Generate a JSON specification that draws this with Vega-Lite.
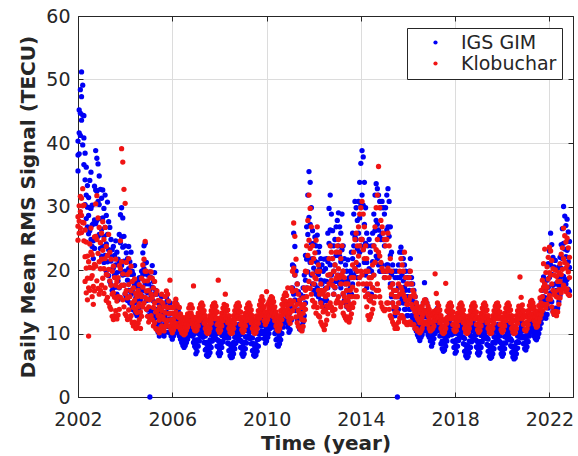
{
  "$schema": "https://vega.github.io/schema/vega-lite/v6.json",
  "width": 495,
  "height": 381,
  "autosize": {"type": "none"},
  "padding": {"left": 78, "top": 16, "right": 5, "bottom": 59},
  "background": "white",
  "config": {
    "font": "DejaVu Sans",
    "view": {"stroke": "#262626", "strokeWidth": 1},
    "axis": {
      "labelFont": "DejaVu Sans",
      "labelFontSize": 19,
      "labelColor": "#262626",
      "labelFlush": false,
      "titleFont": "DejaVu Sans",
      "titleFontSize": 20,
      "titleFontWeight": "bold",
      "titleColor": "#262626",
      "domainColor": "#262626",
      "tickColor": "#262626",
      "tickSize": -5,
      "gridColor": "#dcdcdc",
      "gridWidth": 1
    }
  },
  "data": {
    "values": [
      {"t":2002.00,"a":40.3,"e":38.1,"b":35.6,"c":28.4,"f":26.9,"d":24.7},
      {"t":2002.05,"a":45.2,"e":41.6,"b":38.3,"c":30.1,"f":27.7,"d":25.8},
      {"t":2002.10,"a":48.4,"e":44.7,"b":41.2,"c":31.6,"f":29.2,"d":26.6},
      {"t":2002.15,"a":51.2,"e":47.3,"b":43.6,"c":31.3,"f":28.6,"d":25.9},
      {"t":2002.20,"a":49.1,"e":44.4,"b":39.7,"c":32.8,"f":30.1,"d":27.5},
      {"t":2002.25,"a":44.3,"e":40.8,"b":36.6,"c":30.2,"f":27.4,"d":24.6},
      {"t":2002.30,"a":38.4,"e":34.2,"b":30.3,"c":26.3,"f":22.1,"d":18.2},
      {"t":2002.35,"a":36.2,"e":31.8,"b":28.1,"c":24.4,"f":20.3,"d":16.4},
      {"t":2002.40,"a":33.3,"e":29.9,"b":26.8,"c":22.2,"f":18.7,"d":15.3},
      {"t":2002.45,"a":31.4,"e":28.6,"b":25.7,"c":21.3,"f":17.2,"d":9.6},
      {"t":2002.50,"a":34.1,"e":29.8,"b":26.2,"c":24.1,"f":20.4,"d":16.8},
      {"t":2002.55,"a":35.4,"e":29.7,"b":24.8,"c":26.6,"f":22.8,"d":18.7},
      {"t":2002.60,"a":30.2,"e":27.1,"b":23.7,"c":22.4,"f":19.1,"d":15.8},
      {"t":2002.65,"a":27.3,"e":24.6,"b":21.8,"c":20.3,"f":17.4,"d":14.6},
      {"t":2002.70,"a":33.2,"e":27.9,"b":23.4,"c":25.2,"f":20.9,"d":16.7},
      {"t":2002.75,"a":38.8,"e":32.6,"b":27.3,"c":30.4,"f":25.3,"d":20.6},
      {"t":2002.80,"a":37.6,"e":32.4,"b":27.8,"c":31.7,"f":24.8,"d":18.3},
      {"t":2002.85,"a":36.7,"e":30.8,"b":25.3,"c":28.2,"f":22.6,"d":17.1},
      {"t":2002.90,"a":34.8,"e":30.3,"b":25.6,"c":26.7,"f":21.3,"d":16.2},
      {"t":2002.95,"a":32.7,"e":28.1,"b":23.4,"c":24.3,"f":20.2,"d":16.8},
      {"t":2003.00,"a":31.3,"e":26.4,"b":22.2,"c":25.8,"f":21.7,"d":17.6},
      {"t":2003.05,"a":32.6,"e":28.2,"b":23.7,"c":27.6,"f":23.1,"d":18.7},
      {"t":2003.10,"a":29.7,"e":25.3,"b":21.2,"c":24.8,"f":20.2,"d":16.3},
      {"t":2003.15,"a":31.8,"e":26.7,"b":22.3,"c":26.7,"f":21.8,"d":17.2},
      {"t":2003.20,"a":28.6,"e":24.1,"b":19.8,"c":23.7,"f":19.3,"d":15.2},
      {"t":2003.25,"a":30.7,"e":25.6,"b":21.3,"c":22.3,"f":19.2,"d":15.7},
      {"t":2003.30,"a":27.6,"e":23.2,"b":19.1,"c":25.6,"f":20.1,"d":14.8},
      {"t":2003.35,"a":26.7,"e":22.3,"b":18.2,"c":22.8,"f":18.3,"d":14.2},
      {"t":2003.40,"a":24.8,"e":21.4,"b":17.7,"c":21.7,"f":17.6,"d":13.8},
      {"t":2003.45,"a":23.2,"e":20.1,"b":16.8,"c":19.8,"f":16.2,"d":12.7},
      {"t":2003.50,"a":23.7,"e":20.3,"b":17.2,"c":20.6,"f":16.4,"d":12.2},
      {"t":2003.55,"a":22.3,"e":19.2,"b":16.1,"c":18.8,"f":15.7,"d":12.8},
      {"t":2003.60,"a":24.6,"e":20.8,"b":17.3,"c":21.7,"f":17.6,"d":13.6},
      {"t":2003.65,"a":22.8,"e":19.6,"b":16.2,"c":18.2,"f":15.1,"d":12.3},
      {"t":2003.70,"a":21.7,"e":18.3,"b":15.3,"c":18.8,"f":15.8,"d":12.9},
      {"t":2003.75,"a":25.6,"e":21.2,"b":17.2,"c":20.7,"f":17.3,"d":13.8},
      {"t":2003.80,"a":28.7,"e":24.3,"b":19.8,"c":24.6,"f":20.2,"d":15.7},
      {"t":2003.85,"a":29.8,"e":25.2,"b":20.7,"c":39.1,"f":21.3,"d":17.6},
      {"t":2003.90,"a":28.2,"e":23.6,"b":19.2,"c":37.0,"f":19.4,"d":15.3},
      {"t":2003.95,"a":25.3,"e":21.4,"b":17.6,"c":32.7,"f":17.6,"d":14.2},
      {"t":2004.00,"a":23.8,"e":19.8,"b":16.2,"c":30.5,"f":16.3,"d":13.1},
      {"t":2004.05,"a":22.7,"e":19.3,"b":15.8,"c":21.2,"f":16.8,"d":12.8},
      {"t":2004.10,"a":21.8,"e":18.4,"b":15.2,"c":19.3,"f":15.6,"d":12.2},
      {"t":2004.15,"a":23.7,"e":20.2,"b":16.8,"c":21.8,"f":17.7,"d":13.7},
      {"t":2004.20,"a":21.3,"e":18.1,"b":14.8,"c":19.7,"f":15.8,"d":12.3},
      {"t":2004.25,"a":22.8,"e":19.3,"b":16.2,"c":20.6,"f":16.7,"d":12.8},
      {"t":2004.30,"a":19.8,"e":16.9,"b":14.2,"c":18.2,"f":14.8,"d":11.7},
      {"t":2004.35,"a":19.3,"e":16.4,"b":13.7,"c":17.2,"f":14.1,"d":11.2},
      {"t":2004.40,"a":20.7,"e":17.6,"b":14.8,"c":18.6,"f":15.2,"d":11.8},
      {"t":2004.45,"a":18.2,"e":15.6,"b":13.2,"c":16.3,"f":13.6,"d":10.8},
      {"t":2004.50,"a":17.3,"e":15.1,"b":12.8,"c":15.8,"f":13.3,"d":11.1},
      {"t":2004.55,"a":18.4,"e":16.1,"b":13.7,"c":16.8,"f":14.2,"d":11.6},
      {"t":2004.60,"a":18.8,"e":16.3,"b":14.1,"c":17.7,"f":14.7,"d":12.2},
      {"t":2004.65,"a":17.2,"e":15.2,"b":12.8,"c":16.2,"f":13.4,"d":10.8},
      {"t":2004.70,"a":19.8,"e":16.8,"b":14.2,"c":18.7,"f":15.8,"d":12.7},
      {"t":2004.75,"a":22.7,"e":19.3,"b":15.8,"c":20.8,"f":17.3,"d":14.2},
      {"t":2004.80,"a":23.8,"e":20.2,"b":16.7,"c":21.7,"f":18.3,"d":14.8},
      {"t":2004.85,"a":24.2,"e":21.1,"b":17.8,"c":24.5,"f":19.8,"d":15.7},
      {"t":2004.90,"a":21.2,"e":18.2,"b":15.2,"c":19.8,"f":16.7,"d":13.8},
      {"t":2004.95,"a":19.2,"e":16.4,"b":13.7,"c":18.3,"f":15.4,"d":12.7},
      {"t":2005.00,"a":17.8,"e":15.3,"b":12.8,"c":16.8,"f":14.2,"d":11.8},
      {"t":2005.05,"a":19.7,"e":16.8,"b":0,"c":18.8,"f":15.3,"d":12.2},
      {"t":2005.10,"a":18.8,"e":15.8,"b":13.2,"c":19.7,"f":16.2,"d":12.8},
      {"t":2005.15,"a":20.7,"e":17.3,"b":13.8,"c":18.7,"f":15.6,"d":12.2},
      {"t":2005.20,"a":18.2,"e":15.1,"b":12.2,"c":17.2,"f":14.1,"d":11.2},
      {"t":2005.25,"a":19.6,"e":16.2,"b":12.8,"c":18.2,"f":14.8,"d":11.7},
      {"t":2005.30,"a":16.8,"e":13.8,"b":11.2,"c":16.2,"f":13.4,"d":10.8},
      {"t":2005.35,"a":16.2,"e":13.4,"b":10.8,"c":16.7,"f":13.6,"d":10.6},
      {"t":2005.40,"a":14.8,"e":12.4,"b":10.2,"c":15.2,"f":12.8,"d":10.4},
      {"t":2005.45,"a":13.8,"e":11.6,"b":9.6,"c":14.2,"f":12.1,"d":10.1},
      {"t":2005.50,"a":14.7,"e":12.3,"b":10.1,"c":15.1,"f":12.8,"d":10.8},
      {"t":2005.55,"a":15.8,"e":13.3,"b":11.1,"c":16.2,"f":13.6,"d":11.2},
      {"t":2005.60,"a":14.2,"e":12.1,"b":10.2,"c":14.8,"f":12.6,"d":10.6},
      {"t":2005.65,"a":13.2,"e":11.3,"b":9.6,"c":14.2,"f":12.2,"d":10.4},
      {"t":2005.70,"a":14.8,"e":12.4,"b":10.2,"c":15.8,"f":13.3,"d":11.1},
      {"t":2005.75,"a":15.8,"e":13.4,"b":11.2,"c":16.7,"f":14.2,"d":11.8},
      {"t":2005.80,"a":15.2,"e":13.1,"b":11.1,"c":16.2,"f":14.1,"d":12.1},
      {"t":2005.85,"a":14.1,"e":12.1,"b":10.2,"c":15.1,"f":13.1,"d":11.2},
      {"t":2005.90,"a":14.8,"e":12.3,"b":10.1,"c":18.4,"f":13.2,"d":11.1},
      {"t":2005.95,"a":13.1,"e":11.2,"b":9.6,"c":14.1,"f":12.2,"d":10.6},
      {"t":2006.00,"a":12.2,"e":10.6,"b":9.1,"c":13.2,"f":11.6,"d":10.1},
      {"t":2006.05,"a":13.1,"e":11.3,"b":9.6,"c":14.1,"f":12.2,"d":10.6},
      {"t":2006.10,"a":14.1,"e":12.1,"b":10.1,"c":14.8,"f":12.9,"d":11.1},
      {"t":2006.15,"a":14.8,"e":12.7,"b":10.6,"c":15.4,"f":13.4,"d":11.6},
      {"t":2006.20,"a":14.1,"e":12.1,"b":10.1,"c":14.6,"f":12.8,"d":11.1},
      {"t":2006.25,"a":13.6,"e":11.8,"b":10.1,"c":14.2,"f":12.6,"d":11.1},
      {"t":2006.30,"a":13.1,"e":11.3,"b":9.6,"c":14.1,"f":12.5,"d":11.0},
      {"t":2006.35,"a":12.1,"e":10.6,"b":9.1,"c":13.1,"f":11.8,"d":10.6},
      {"t":2006.40,"a":11.2,"e":9.8,"b":8.6,"c":12.6,"f":11.3,"d":10.1},
      {"t":2006.45,"a":10.6,"e":9.3,"b":8.1,"c":12.1,"f":11.0,"d":10.0},
      {"t":2006.50,"a":10.1,"e":8.9,"b":7.8,"c":11.6,"f":10.7,"d":9.8},
      {"t":2006.55,"a":10.6,"e":9.3,"b":8.1,"c":12.1,"f":11.0,"d":10.0},
      {"t":2006.60,"a":11.1,"e":9.8,"b":8.6,"c":12.6,"f":11.5,"d":10.5},
      {"t":2006.65,"a":11.6,"e":10.3,"b":9.1,"c":13.1,"f":12.0,"d":11.0},
      {"t":2006.70,"a":12.1,"e":10.8,"b":9.6,"c":14.0,"f":12.7,"d":11.5},
      {"t":2006.75,"a":12.6,"e":11.3,"b":10.1,"c":14.5,"f":13.2,"d":12.0},
      {"t":2006.80,"a":12.6,"e":11.3,"b":10.1,"c":14.5,"f":13.2,"d":12.0},
      {"t":2006.85,"a":12.1,"e":10.8,"b":9.6,"c":14.0,"f":12.7,"d":11.5},
      {"t":2006.90,"a":11.1,"e":9.8,"b":8.6,"c":17.5,"f":12.2,"d":11.0},
      {"t":2006.95,"a":10.1,"e":9.0,"b":8.0,"c":12.5,"f":11.5,"d":10.5},
      {"t":2007.00,"a":8.5,"e":7.7,"b":6.8,"c":12.2,"f":11.3,"d":10.4},
      {"t":2007.05,"a":9.0,"e":8.1,"b":7.2,"c":12.6,"f":11.6,"d":10.6},
      {"t":2007.10,"a":10.0,"e":9.0,"b":8.0,"c":13.2,"f":12.2,"d":11.2},
      {"t":2007.15,"a":11.0,"e":9.9,"b":8.8,"c":14.0,"f":13.0,"d":12.0},
      {"t":2007.20,"a":11.8,"e":10.7,"b":9.6,"c":14.6,"f":13.6,"d":12.6},
      {"t":2007.25,"a":12.2,"e":11.1,"b":10.0,"c":14.8,"f":13.8,"d":12.8},
      {"t":2007.30,"a":11.8,"e":10.6,"b":9.4,"c":14.4,"f":13.4,"d":12.4},
      {"t":2007.35,"a":10.8,"e":9.7,"b":8.6,"c":13.6,"f":12.6,"d":11.6},
      {"t":2007.40,"a":9.6,"e":8.5,"b":7.4,"c":12.8,"f":11.8,"d":10.8},
      {"t":2007.45,"a":8.6,"e":7.6,"b":6.6,"c":12.2,"f":11.2,"d":10.2},
      {"t":2007.50,"a":8.2,"e":7.3,"b":6.4,"c":12.0,"f":11.0,"d":10.0},
      {"t":2007.55,"a":8.4,"e":7.5,"b":6.6,"c":12.2,"f":11.2,"d":10.2},
      {"t":2007.60,"a":9.0,"e":8.0,"b":7.0,"c":12.8,"f":11.8,"d":10.8},
      {"t":2007.65,"a":9.8,"e":8.8,"b":7.8,"c":13.6,"f":12.6,"d":11.6},
      {"t":2007.70,"a":10.8,"e":9.8,"b":8.8,"c":14.3,"f":13.3,"d":12.3},
      {"t":2007.75,"a":11.5,"e":10.5,"b":9.5,"c":14.7,"f":13.7,"d":12.7},
      {"t":2007.80,"a":11.7,"e":10.6,"b":9.6,"c":14.8,"f":13.8,"d":12.8},
      {"t":2007.85,"a":11.2,"e":10.2,"b":9.2,"c":14.3,"f":13.3,"d":12.3},
      {"t":2007.90,"a":10.0,"e":9.0,"b":8.0,"c":13.4,"f":12.4,"d":11.4},
      {"t":2007.95,"a":8.9,"e":7.9,"b":6.9,"c":18.4,"f":11.6,"d":10.6},
      {"t":2008.00,"a":8.2,"e":7.4,"b":6.5,"c":12.2,"f":11.1,"d":10.2},
      {"t":2008.05,"a":8.7,"e":7.9,"b":6.9,"c":12.5,"f":11.6,"d":10.5},
      {"t":2008.10,"a":9.7,"e":8.6,"b":7.8,"c":13.2,"f":12.3,"d":11.2},
      {"t":2008.15,"a":10.7,"e":9.8,"b":8.7,"c":14.0,"f":12.9,"d":12.0},
      {"t":2008.20,"a":11.5,"e":10.3,"b":9.4,"c":14.6,"f":13.7,"d":12.6},
      {"t":2008.25,"a":11.8,"e":10.9,"b":9.8,"c":16.2,"f":13.7,"d":12.8},
      {"t":2008.30,"a":11.4,"e":10.2,"b":9.3,"c":14.4,"f":13.5,"d":12.4},
      {"t":2008.35,"a":10.5,"e":9.6,"b":8.5,"c":13.7,"f":12.6,"d":11.7},
      {"t":2008.40,"a":9.3,"e":8.4,"b":7.3,"c":12.8,"f":11.7,"d":10.8},
      {"t":2008.45,"a":8.3,"e":7.3,"b":6.5,"c":12.2,"f":11.3,"d":10.2},
      {"t":2008.50,"a":7.8,"e":7.1,"b":6.2,"c":12.0,"f":10.9,"d":10.0},
      {"t":2008.55,"a":8.0,"e":7.2,"b":6.3,"c":12.1,"f":11.2,"d":10.1},
      {"t":2008.60,"a":8.6,"e":7.8,"b":6.8,"c":12.8,"f":11.7,"d":10.8},
      {"t":2008.65,"a":9.4,"e":8.4,"b":7.6,"c":13.6,"f":12.7,"d":11.6},
      {"t":2008.70,"a":10.4,"e":9.5,"b":8.5,"c":14.3,"f":13.2,"d":12.3},
      {"t":2008.75,"a":11.2,"e":10.1,"b":9.2,"c":14.7,"f":13.8,"d":12.7},
      {"t":2008.80,"a":11.4,"e":10.5,"b":9.4,"c":14.8,"f":13.7,"d":12.8},
      {"t":2008.85,"a":10.9,"e":9.8,"b":8.9,"c":14.3,"f":13.4,"d":12.3},
      {"t":2008.90,"a":9.8,"e":8.9,"b":7.8,"c":13.4,"f":12.3,"d":11.4},
      {"t":2008.95,"a":8.7,"e":7.7,"b":6.8,"c":12.6,"f":11.7,"d":10.6},
      {"t":2009.00,"a":8.0,"e":7.3,"b":6.4,"c":12.2,"f":11.2,"d":10.2},
      {"t":2009.05,"a":8.6,"e":7.6,"b":6.8,"c":12.5,"f":11.4,"d":10.5},
      {"t":2009.10,"a":9.5,"e":8.6,"b":7.6,"c":13.2,"f":12.3,"d":11.2},
      {"t":2009.15,"a":10.5,"e":9.4,"b":8.5,"c":14.0,"f":13.1,"d":12.0},
      {"t":2009.20,"a":11.3,"e":10.4,"b":9.3,"c":14.6,"f":13.5,"d":12.6},
      {"t":2009.25,"a":11.7,"e":10.6,"b":9.7,"c":14.8,"f":13.9,"d":12.8},
      {"t":2009.30,"a":11.3,"e":10.3,"b":9.2,"c":14.4,"f":13.3,"d":12.4},
      {"t":2009.35,"a":10.4,"e":9.3,"b":8.4,"c":13.7,"f":12.8,"d":11.7},
      {"t":2009.40,"a":9.3,"e":8.4,"b":7.3,"c":12.8,"f":11.7,"d":10.8},
      {"t":2009.45,"a":8.4,"e":7.4,"b":6.6,"c":12.2,"f":11.3,"d":10.2},
      {"t":2009.50,"a":8.0,"e":7.3,"b":6.4,"c":12.0,"f":10.9,"d":10.0},
      {"t":2009.55,"a":8.3,"e":7.5,"b":6.6,"c":12.2,"f":11.2,"d":10.2},
      {"t":2009.60,"a":9.0,"e":8.0,"b":7.2,"c":12.8,"f":11.9,"d":10.8},
      {"t":2009.65,"a":10.0,"e":9.1,"b":8.0,"c":13.6,"f":12.5,"d":11.6},
      {"t":2009.70,"a":11.2,"e":10.1,"b":9.2,"c":14.5,"f":13.5,"d":12.4},
      {"t":2009.75,"a":12.2,"e":11.2,"b":10.0,"c":15.2,"f":14.0,"d":13.0},
      {"t":2009.80,"a":12.8,"e":11.5,"b":10.4,"c":15.8,"f":14.6,"d":13.2},
      {"t":2009.85,"a":12.5,"e":11.3,"b":10.0,"c":15.2,"f":13.9,"d":12.8},
      {"t":2009.90,"a":11.5,"e":10.3,"b":9.2,"c":14.2,"f":13.2,"d":12.0},
      {"t":2009.95,"a":10.5,"e":9.4,"b":8.5,"c":13.4,"f":12.3,"d":11.4},
      {"t":2010.00,"a":11.0,"e":9.8,"b":8.8,"c":16.6,"f":12.9,"d":11.8},
      {"t":2010.05,"a":11.8,"e":10.7,"b":9.4,"c":14.6,"f":13.3,"d":12.2},
      {"t":2010.10,"a":12.6,"e":11.2,"b":10.0,"c":15.0,"f":13.9,"d":12.8},
      {"t":2010.15,"a":13.4,"e":12.2,"b":10.8,"c":15.4,"f":14.2,"d":13.2},
      {"t":2010.20,"a":14.0,"e":12.6,"b":11.4,"c":15.8,"f":14.7,"d":13.4},
      {"t":2010.25,"a":14.2,"e":12.9,"b":11.6,"c":15.6,"f":14.3,"d":13.2},
      {"t":2010.30,"a":13.6,"e":12.4,"b":11.0,"c":15.0,"f":13.9,"d":12.6},
      {"t":2010.35,"a":12.6,"e":11.2,"b":10.0,"c":14.2,"f":13.0,"d":12.0},
      {"t":2010.40,"a":11.4,"e":10.3,"b":9.0,"c":13.4,"f":12.4,"d":11.2},
      {"t":2010.45,"a":10.4,"e":9.2,"b":8.2,"c":12.8,"f":11.6,"d":10.6},
      {"t":2010.50,"a":10.0,"e":9.1,"b":8.0,"c":12.6,"f":11.4,"d":10.4},
      {"t":2010.55,"a":10.4,"e":9.3,"b":8.4,"c":12.8,"f":11.9,"d":10.8},
      {"t":2010.60,"a":11.4,"e":10.1,"b":9.0,"c":13.6,"f":12.4,"d":11.4},
      {"t":2010.65,"a":12.6,"e":11.4,"b":10.0,"c":14.6,"f":13.5,"d":12.2},
      {"t":2010.70,"a":13.6,"e":12.2,"b":11.0,"c":15.4,"f":14.1,"d":13.0},
      {"t":2010.75,"a":14.6,"e":13.3,"b":11.8,"c":16.0,"f":14.8,"d":13.4},
      {"t":2010.80,"a":15.0,"e":13.4,"b":12.0,"c":16.4,"f":15.1,"d":13.6},
      {"t":2010.85,"a":14.6,"e":13.0,"b":11.6,"c":16.0,"f":14.5,"d":13.2},
      {"t":2010.90,"a":13.8,"e":12.5,"b":11.0,"c":17.2,"f":13.8,"d":12.6},
      {"t":2010.95,"a":13.0,"e":11.6,"b":10.2,"c":14.6,"f":13.2,"d":12.0},
      {"t":2011.00,"a":14.2,"e":12.3,"b":10.6,"c":15.2,"f":13.3,"d":11.6},
      {"t":2011.05,"a":17.1,"e":14.4,"b":12.1,"c":17.2,"f":14.7,"d":12.4},
      {"t":2011.10,"a":20.8,"e":17.2,"b":14.1,"c":19.8,"f":16.6,"d":13.6},
      {"t":2011.15,"a":25.8,"e":20.6,"b":16.2,"c":27.4,"f":20.3,"d":15.1},
      {"t":2011.20,"a":23.7,"e":19.2,"b":15.3,"c":25.3,"f":19.2,"d":14.2},
      {"t":2011.25,"a":19.8,"e":16.6,"b":13.6,"c":21.7,"f":16.8,"d":12.6},
      {"t":2011.30,"a":17.8,"e":14.8,"b":12.2,"c":17.8,"f":14.6,"d":11.7},
      {"t":2011.35,"a":16.6,"e":13.7,"b":11.2,"c":16.2,"f":13.6,"d":11.1},
      {"t":2011.40,"a":15.2,"e":12.8,"b":10.7,"c":15.3,"f":13.1,"d":10.9},
      {"t":2011.45,"a":16.1,"e":13.4,"b":11.2,"c":14.6,"f":12.6,"d":10.6},
      {"t":2011.50,"a":15.6,"e":12.9,"b":10.6,"c":14.1,"f":12.2,"d":10.4},
      {"t":2011.55,"a":17.2,"e":14.4,"b":11.8,"c":15.6,"f":13.2,"d":11.1},
      {"t":2011.60,"a":19.2,"e":15.8,"b":12.8,"c":17.2,"f":14.6,"d":12.1},
      {"t":2011.65,"a":22.3,"e":18.4,"b":14.8,"c":19.8,"f":16.8,"d":13.8},
      {"t":2011.70,"a":26.8,"e":21.7,"b":17.2,"c":23.8,"f":19.7,"d":15.8},
      {"t":2011.75,"a":31.8,"e":25.6,"b":19.7,"c":27.8,"f":22.3,"d":17.2},
      {"t":2011.80,"a":35.5,"e":28.3,"b":21.8,"c":31.8,"f":24.7,"d":18.2},
      {"t":2011.85,"a":33.8,"e":27.2,"b":21.2,"c":29.7,"f":23.4,"d":17.1},
      {"t":2011.90,"a":29.8,"e":24.2,"b":19.2,"c":26.8,"f":21.2,"d":16.2},
      {"t":2011.95,"a":26.2,"e":21.8,"b":17.8,"c":23.8,"f":19.4,"d":15.2},
      {"t":2012.00,"a":24.2,"e":20.3,"b":16.8,"c":21.8,"f":17.8,"d":14.2},
      {"t":2012.05,"a":25.2,"e":21.4,"b":17.7,"c":22.7,"f":18.8,"d":14.8},
      {"t":2012.10,"a":23.8,"e":19.7,"b":16.2,"c":24.7,"f":18.6,"d":13.2},
      {"t":2012.15,"a":25.5,"e":21.2,"b":17.2,"c":26.8,"f":19.8,"d":14.1},
      {"t":2012.20,"a":22.8,"e":19.3,"b":15.8,"c":20.8,"f":16.8,"d":12.8},
      {"t":2012.25,"a":23.7,"e":20.2,"b":16.8,"c":19.8,"f":16.2,"d":12.6},
      {"t":2012.30,"a":21.8,"e":18.4,"b":15.2,"c":17.8,"f":14.8,"d":11.8},
      {"t":2012.35,"a":20.8,"e":17.8,"b":14.8,"c":16.8,"f":14.2,"d":11.4},
      {"t":2012.40,"a":19.8,"e":16.7,"b":14.2,"c":16.2,"f":13.4,"d":11.1},
      {"t":2012.45,"a":21.7,"e":18.3,"b":15.2,"c":16.8,"f":13.6,"d":10.6},
      {"t":2012.50,"a":20.2,"e":17.1,"b":14.1,"c":15.8,"f":13.6,"d":11.4},
      {"t":2012.55,"a":21.8,"e":18.2,"b":15.2,"c":17.2,"f":14.4,"d":12.1},
      {"t":2012.60,"a":25.8,"e":21.3,"b":17.2,"c":19.2,"f":16.1,"d":13.1},
      {"t":2012.65,"a":29.7,"e":24.2,"b":19.2,"c":21.8,"f":17.8,"d":14.1},
      {"t":2012.70,"a":31.8,"e":26.3,"b":20.8,"c":23.8,"f":19.3,"d":14.8},
      {"t":2012.75,"a":28.8,"e":23.8,"b":19.2,"c":22.8,"f":18.4,"d":14.2},
      {"t":2012.80,"a":26.2,"e":21.8,"b":17.8,"c":21.8,"f":17.6,"d":13.6},
      {"t":2012.85,"a":23.8,"e":19.8,"b":16.2,"c":19.8,"f":16.2,"d":12.8},
      {"t":2012.90,"a":24.8,"e":20.8,"b":17.2,"c":20.8,"f":17.3,"d":13.8},
      {"t":2012.95,"a":26.8,"e":22.3,"b":18.2,"c":22.8,"f":18.7,"d":14.8},
      {"t":2013.00,"a":27.8,"e":22.8,"b":18.2,"c":23.8,"f":19.2,"d":15.2},
      {"t":2013.05,"a":29.0,"e":23.8,"b":19.2,"c":24.8,"f":20.2,"d":15.8},
      {"t":2013.10,"a":26.8,"e":22.2,"b":17.8,"c":22.8,"f":18.8,"d":14.8},
      {"t":2013.15,"a":25.8,"e":21.3,"b":17.2,"c":21.8,"f":17.8,"d":14.2},
      {"t":2013.20,"a":28.8,"e":23.2,"b":18.2,"c":23.8,"f":19.3,"d":14.8},
      {"t":2013.25,"a":23.8,"e":19.8,"b":16.2,"c":19.8,"f":16.3,"d":13.2},
      {"t":2013.30,"a":21.8,"e":18.3,"b":15.2,"c":18.8,"f":15.8,"d":12.8},
      {"t":2013.35,"a":20.8,"e":17.8,"b":14.8,"c":17.8,"f":15.1,"d":12.4},
      {"t":2013.40,"a":19.8,"e":16.8,"b":14.2,"c":16.8,"f":14.3,"d":12.1},
      {"t":2013.45,"a":21.6,"e":18.2,"b":15.1,"c":17.8,"f":15.2,"d":12.6},
      {"t":2013.50,"a":18.8,"e":16.3,"b":13.8,"c":15.8,"f":13.8,"d":11.8},
      {"t":2013.55,"a":19.8,"e":17.2,"b":14.6,"c":16.8,"f":14.6,"d":12.4},
      {"t":2013.60,"a":22.8,"e":19.3,"b":16.2,"c":18.8,"f":15.8,"d":13.1},
      {"t":2013.65,"a":25.8,"e":21.8,"b":17.8,"c":20.8,"f":17.3,"d":14.1},
      {"t":2013.70,"a":28.8,"e":23.8,"b":19.2,"c":22.8,"f":18.8,"d":14.8},
      {"t":2013.75,"a":30.8,"e":25.2,"b":20.2,"c":24.8,"f":20.2,"d":15.8},
      {"t":2013.80,"a":29.8,"e":24.8,"b":19.8,"c":25.8,"f":21.2,"d":16.8},
      {"t":2013.85,"a":27.8,"e":23.3,"b":18.8,"c":23.8,"f":19.8,"d":15.8},
      {"t":2013.90,"a":30.8,"e":25.8,"b":20.8,"c":26.8,"f":22.2,"d":17.8},
      {"t":2013.95,"a":33.8,"e":28.2,"b":22.8,"c":28.8,"f":23.8,"d":18.8},
      {"t":2014.00,"a":36.8,"e":30.2,"b":23.8,"c":29.8,"f":24.8,"d":19.8},
      {"t":2014.05,"a":38.8,"e":31.8,"b":24.8,"c":30.8,"f":24.8,"d":19.2},
      {"t":2014.10,"a":37.8,"e":30.2,"b":23.2,"c":28.8,"f":23.2,"d":17.8},
      {"t":2014.15,"a":33.8,"e":27.2,"b":21.2,"c":26.8,"f":21.8,"d":16.8},
      {"t":2014.20,"a":29.8,"e":24.2,"b":19.2,"c":23.8,"f":19.8,"d":15.8},
      {"t":2014.25,"a":25.8,"e":21.2,"b":17.2,"c":21.8,"f":17.8,"d":14.2},
      {"t":2014.30,"a":23.8,"e":19.8,"b":16.2,"c":19.8,"f":16.2,"d":12.8},
      {"t":2014.35,"a":24.8,"e":20.2,"b":16.2,"c":18.8,"f":15.3,"d":12.2},
      {"t":2014.40,"a":22.8,"e":18.8,"b":15.2,"c":17.8,"f":15.1,"d":12.6},
      {"t":2014.45,"a":23.8,"e":19.8,"b":16.2,"c":18.8,"f":15.8,"d":13.1},
      {"t":2014.50,"a":25.8,"e":21.3,"b":17.2,"c":20.8,"f":17.2,"d":13.8},
      {"t":2014.55,"a":28.8,"e":23.8,"b":19.2,"c":23.8,"f":19.2,"d":14.8},
      {"t":2014.60,"a":31.8,"e":26.2,"b":21.2,"c":26.8,"f":21.2,"d":15.8},
      {"t":2014.65,"a":33.6,"e":27.8,"b":22.2,"c":29.8,"f":23.2,"d":16.8},
      {"t":2014.70,"a":32.8,"e":27.2,"b":21.8,"c":31.8,"f":24.8,"d":17.8},
      {"t":2014.75,"a":31.8,"e":26.3,"b":20.8,"c":36.3,"f":22.8,"d":16.8},
      {"t":2014.80,"a":30.8,"e":25.3,"b":19.8,"c":29.8,"f":22.2,"d":15.8},
      {"t":2014.85,"a":29.8,"e":24.8,"b":19.8,"c":27.8,"f":21.2,"d":14.8},
      {"t":2014.90,"a":30.8,"e":25.8,"b":20.8,"c":26.8,"f":20.3,"d":14.2},
      {"t":2014.95,"a":29.8,"e":24.8,"b":19.8,"c":25.8,"f":19.8,"d":13.8},
      {"t":2015.00,"a":28.8,"e":23.8,"b":18.8,"c":24.8,"f":18.8,"d":13.6},
      {"t":2015.05,"a":29.8,"e":24.8,"b":19.8,"c":23.8,"f":18.8,"d":13.8},
      {"t":2015.10,"a":31.8,"e":26.3,"b":20.8,"c":24.8,"f":19.8,"d":14.8},
      {"t":2015.15,"a":32.8,"e":26.8,"b":20.8,"c":25.8,"f":20.3,"d":14.8},
      {"t":2015.20,"a":30.8,"e":25.3,"b":19.8,"c":23.8,"f":18.8,"d":13.8},
      {"t":2015.25,"a":26.8,"e":22.3,"b":17.8,"c":21.8,"f":17.3,"d":12.8},
      {"t":2015.30,"a":22.8,"e":19.3,"b":15.8,"c":19.8,"f":16.2,"d":12.4},
      {"t":2015.35,"a":20.8,"e":17.8,"b":14.8,"c":17.8,"f":14.8,"d":11.8},
      {"t":2015.40,"a":19.8,"e":16.8,"b":13.8,"c":16.8,"f":14.2,"d":11.4},
      {"t":2015.45,"a":18.8,"e":15.8,"b":12.8,"c":15.8,"f":13.3,"d":10.8},
      {"t":2015.50,"a":19.8,"e":16.8,"b":13.8,"c":16.8,"f":14.1,"d":11.4},
      {"t":2015.55,"a":18.8,"e":15.8,"b":0,"c":15.8,"f":13.3,"d":10.8},
      {"t":2015.60,"a":20.8,"e":17.3,"b":13.8,"c":17.8,"f":14.8,"d":11.8},
      {"t":2015.65,"a":22.8,"e":18.8,"b":14.8,"c":19.8,"f":16.2,"d":12.4},
      {"t":2015.70,"a":23.6,"e":19.7,"b":15.8,"c":21.8,"f":17.3,"d":12.8},
      {"t":2015.75,"a":22.8,"e":19.2,"b":15.3,"c":20.8,"f":16.8,"d":12.8},
      {"t":2015.80,"a":21.8,"e":18.3,"b":14.8,"c":19.8,"f":16.2,"d":12.4},
      {"t":2015.85,"a":20.8,"e":17.3,"b":13.8,"c":22.8,"f":15.8,"d":11.8},
      {"t":2015.90,"a":19.8,"e":16.8,"b":13.8,"c":18.8,"f":15.3,"d":11.8},
      {"t":2015.95,"a":18.8,"e":15.8,"b":12.8,"c":17.8,"f":14.6,"d":11.4},
      {"t":2016.00,"a":18.8,"e":15.8,"b":12.8,"c":17.8,"f":14.6,"d":11.4},
      {"t":2016.05,"a":19.8,"e":16.8,"b":13.8,"c":18.8,"f":15.3,"d":11.8},
      {"t":2016.10,"a":21.8,"e":17.8,"b":13.8,"c":19.8,"f":15.8,"d":11.8},
      {"t":2016.15,"a":18.8,"e":15.8,"b":12.8,"c":17.8,"f":14.6,"d":11.4},
      {"t":2016.20,"a":17.8,"e":15.1,"b":12.4,"c":16.8,"f":14.1,"d":11.4},
      {"t":2016.25,"a":16.8,"e":14.3,"b":11.8,"c":16.3,"f":13.8,"d":11.4},
      {"t":2016.30,"a":15.8,"e":13.3,"b":10.8,"c":15.8,"f":13.4,"d":10.8},
      {"t":2016.35,"a":14.8,"e":12.6,"b":10.4,"c":14.8,"f":12.8,"d":10.8},
      {"t":2016.40,"a":13.8,"e":11.8,"b":9.8,"c":14.3,"f":12.4,"d":10.4},
      {"t":2016.45,"a":13.3,"e":11.3,"b":9.4,"c":13.8,"f":12.1,"d":10.4},
      {"t":2016.50,"a":12.8,"e":10.8,"b":8.9,"c":13.3,"f":11.7,"d":10.1},
      {"t":2016.55,"a":13.3,"e":11.3,"b":9.4,"c":13.8,"f":12.1,"d":10.4},
      {"t":2016.60,"a":13.8,"e":11.8,"b":9.8,"c":14.3,"f":12.6,"d":10.8},
      {"t":2016.65,"a":14.8,"e":12.6,"b":10.4,"c":14.8,"f":13.1,"d":11.4},
      {"t":2016.70,"a":18.0,"e":13.3,"b":10.8,"c":15.3,"f":13.6,"d":11.8},
      {"t":2016.75,"a":15.3,"e":13.1,"b":10.8,"c":15.3,"f":13.6,"d":11.8},
      {"t":2016.80,"a":14.8,"e":12.6,"b":10.4,"c":14.8,"f":13.3,"d":11.6},
      {"t":2016.85,"a":13.8,"e":11.8,"b":9.8,"c":14.3,"f":12.8,"d":11.4},
      {"t":2016.90,"a":12.8,"e":11.1,"b":9.4,"c":13.8,"f":12.3,"d":10.8},
      {"t":2016.95,"a":11.8,"e":10.3,"b":8.8,"c":13.3,"f":11.8,"d":10.4},
      {"t":2017.00,"a":10.5,"e":9.2,"b":8.0,"c":12.8,"f":11.7,"d":10.6},
      {"t":2017.05,"a":11.0,"e":9.8,"b":8.5,"c":13.0,"f":11.8,"d":10.8},
      {"t":2017.10,"a":12.0,"e":10.5,"b":9.2,"c":13.5,"f":12.4,"d":11.2},
      {"t":2017.15,"a":13.0,"e":11.6,"b":10.0,"c":19.4,"f":13.2,"d":12.0},
      {"t":2017.20,"a":13.6,"e":12.0,"b":10.6,"c":16.3,"f":13.7,"d":12.6},
      {"t":2017.25,"a":14.0,"e":12.4,"b":11.0,"c":14.8,"f":13.8,"d":12.8},
      {"t":2017.30,"a":13.4,"e":11.8,"b":10.4,"c":14.4,"f":13.4,"d":12.4},
      {"t":2017.35,"a":12.4,"e":11.1,"b":9.6,"c":13.7,"f":12.6,"d":11.7},
      {"t":2017.40,"a":11.2,"e":9.7,"b":8.4,"c":12.8,"f":11.9,"d":10.8},
      {"t":2017.45,"a":10.2,"e":8.8,"b":7.6,"c":12.2,"f":11.1,"d":10.2},
      {"t":2017.50,"a":9.6,"e":8.5,"b":7.2,"c":12.0,"f":11.1,"d":10.0},
      {"t":2017.55,"a":9.8,"e":8.5,"b":7.4,"c":12.2,"f":11.2,"d":10.2},
      {"t":2017.60,"a":10.4,"e":9.2,"b":8.0,"c":17.9,"f":11.8,"d":10.8},
      {"t":2017.65,"a":11.2,"e":10.1,"b":8.8,"c":13.6,"f":12.5,"d":11.6},
      {"t":2017.70,"a":12.2,"e":10.8,"b":9.6,"c":14.3,"f":13.4,"d":12.3},
      {"t":2017.75,"a":12.8,"e":11.6,"b":10.2,"c":14.7,"f":13.6,"d":12.7},
      {"t":2017.80,"a":13.0,"e":11.6,"b":10.4,"c":14.8,"f":13.9,"d":12.8},
      {"t":2017.85,"a":12.4,"e":11.2,"b":9.8,"c":14.3,"f":13.2,"d":12.3},
      {"t":2017.90,"a":11.2,"e":10.0,"b":8.8,"c":13.4,"f":12.5,"d":11.4},
      {"t":2017.95,"a":10.0,"e":8.8,"b":7.8,"c":12.6,"f":11.5,"d":10.6},
      {"t":2018.00,"a":8.6,"e":7.8,"b":6.9,"c":12.2,"f":11.2,"d":10.3},
      {"t":2018.05,"a":9.0,"e":8.0,"b":7.2,"c":12.5,"f":11.6,"d":10.5},
      {"t":2018.10,"a":10.0,"e":9.1,"b":8.0,"c":13.2,"f":12.1,"d":11.2},
      {"t":2018.15,"a":11.0,"e":9.9,"b":8.9,"c":14.0,"f":13.1,"d":12.0},
      {"t":2018.20,"a":11.8,"e":10.8,"b":9.6,"c":14.6,"f":13.5,"d":12.6},
      {"t":2018.25,"a":12.2,"e":11.0,"b":10.0,"c":14.8,"f":13.9,"d":12.8},
      {"t":2018.30,"a":11.6,"e":10.6,"b":9.4,"c":14.4,"f":13.3,"d":12.4},
      {"t":2018.35,"a":10.5,"e":9.4,"b":8.4,"c":13.7,"f":12.8,"d":11.7},
      {"t":2018.40,"a":9.2,"e":8.3,"b":7.2,"c":12.8,"f":11.7,"d":10.8},
      {"t":2018.45,"a":8.2,"e":7.3,"b":6.5,"c":12.2,"f":11.3,"d":10.2},
      {"t":2018.50,"a":7.8,"e":7.0,"b":6.2,"c":12.0,"f":10.9,"d":10.0},
      {"t":2018.55,"a":8.1,"e":7.3,"b":6.4,"c":12.2,"f":11.2,"d":10.2},
      {"t":2018.60,"a":8.8,"e":7.8,"b":7.0,"c":12.8,"f":11.9,"d":10.8},
      {"t":2018.65,"a":9.7,"e":8.8,"b":7.8,"c":13.6,"f":12.5,"d":11.6},
      {"t":2018.70,"a":10.7,"e":9.6,"b":8.7,"c":14.3,"f":13.4,"d":12.3},
      {"t":2018.75,"a":11.4,"e":10.4,"b":9.3,"c":14.7,"f":13.6,"d":12.7},
      {"t":2018.80,"a":11.6,"e":10.6,"b":9.5,"c":14.8,"f":13.9,"d":12.8},
      {"t":2018.85,"a":11.0,"e":9.9,"b":9.0,"c":14.3,"f":13.2,"d":12.3},
      {"t":2018.90,"a":9.8,"e":8.9,"b":7.9,"c":13.4,"f":12.5,"d":11.4},
      {"t":2018.95,"a":8.7,"e":7.7,"b":6.9,"c":12.6,"f":11.5,"d":10.6},
      {"t":2019.00,"a":8.2,"e":7.3,"b":6.6,"c":12.2,"f":11.3,"d":10.2},
      {"t":2019.05,"a":8.7,"e":7.9,"b":7.0,"c":12.5,"f":11.4,"d":10.5},
      {"t":2019.10,"a":9.7,"e":8.7,"b":7.8,"c":13.2,"f":12.3,"d":11.2},
      {"t":2019.15,"a":10.7,"e":9.8,"b":8.7,"c":14.0,"f":12.9,"d":12.0},
      {"t":2019.20,"a":11.5,"e":10.4,"b":9.4,"c":14.6,"f":13.7,"d":12.6},
      {"t":2019.25,"a":11.8,"e":10.8,"b":9.7,"c":14.8,"f":13.7,"d":12.8},
      {"t":2019.30,"a":11.3,"e":10.2,"b":9.2,"c":14.4,"f":13.5,"d":12.4},
      {"t":2019.35,"a":10.3,"e":9.4,"b":8.3,"c":13.7,"f":12.6,"d":11.7},
      {"t":2019.40,"a":9.1,"e":8.1,"b":7.2,"c":12.8,"f":11.8,"d":10.8},
      {"t":2019.45,"a":8.1,"e":7.3,"b":6.4,"c":12.2,"f":11.1,"d":10.2},
      {"t":2019.50,"a":7.7,"e":6.8,"b":6.1,"c":12.0,"f":11.1,"d":10.0},
      {"t":2019.55,"a":7.9,"e":7.2,"b":6.3,"c":12.1,"f":11.0,"d":10.1},
      {"t":2019.60,"a":8.6,"e":7.7,"b":6.8,"c":12.8,"f":11.9,"d":10.8},
      {"t":2019.65,"a":9.5,"e":8.6,"b":7.6,"c":13.6,"f":12.5,"d":11.6},
      {"t":2019.70,"a":10.5,"e":9.4,"b":8.5,"c":14.3,"f":13.4,"d":12.3},
      {"t":2019.75,"a":11.2,"e":10.2,"b":9.1,"c":14.7,"f":13.6,"d":12.7},
      {"t":2019.80,"a":11.4,"e":10.4,"b":9.3,"c":14.8,"f":13.9,"d":12.8},
      {"t":2019.85,"a":10.8,"e":9.7,"b":8.8,"c":14.3,"f":13.2,"d":12.3},
      {"t":2019.90,"a":9.6,"e":8.7,"b":7.7,"c":13.4,"f":12.5,"d":11.4},
      {"t":2019.95,"a":8.5,"e":7.6,"b":6.8,"c":12.6,"f":11.5,"d":10.6},
      {"t":2020.00,"a":8.0,"e":7.1,"b":6.4,"c":12.2,"f":11.3,"d":10.2},
      {"t":2020.05,"a":8.5,"e":7.7,"b":6.8,"c":12.5,"f":11.4,"d":10.5},
      {"t":2020.10,"a":9.5,"e":8.5,"b":7.6,"c":13.2,"f":12.3,"d":11.2},
      {"t":2020.15,"a":10.5,"e":9.6,"b":8.5,"c":14.0,"f":12.9,"d":12.0},
      {"t":2020.20,"a":11.3,"e":10.2,"b":9.2,"c":14.6,"f":13.7,"d":12.6},
      {"t":2020.25,"a":11.6,"e":10.6,"b":9.5,"c":14.8,"f":13.7,"d":12.8},
      {"t":2020.30,"a":11.1,"e":10.0,"b":9.0,"c":14.4,"f":13.5,"d":12.4},
      {"t":2020.35,"a":10.1,"e":9.2,"b":8.1,"c":13.7,"f":12.6,"d":11.7},
      {"t":2020.40,"a":8.9,"e":7.9,"b":7.0,"c":12.8,"f":11.8,"d":10.8},
      {"t":2020.45,"a":8.0,"e":7.1,"b":6.3,"c":12.2,"f":11.1,"d":10.2},
      {"t":2020.50,"a":7.6,"e":6.7,"b":6.0,"c":12.0,"f":11.1,"d":10.0},
      {"t":2020.55,"a":7.9,"e":7.1,"b":6.2,"c":12.1,"f":11.0,"d":10.1},
      {"t":2020.60,"a":8.6,"e":7.6,"b":6.8,"c":12.8,"f":11.9,"d":10.8},
      {"t":2020.65,"a":9.6,"e":8.7,"b":7.7,"c":13.6,"f":12.5,"d":11.6},
      {"t":2020.70,"a":10.7,"e":9.7,"b":8.6,"c":14.3,"f":13.4,"d":12.3},
      {"t":2020.75,"a":11.6,"e":10.4,"b":9.4,"c":18.9,"f":13.6,"d":12.7},
      {"t":2020.80,"a":12.0,"e":10.9,"b":9.7,"c":15.7,"f":13.9,"d":12.8},
      {"t":2020.85,"a":11.6,"e":10.4,"b":9.3,"c":14.5,"f":13.3,"d":12.3},
      {"t":2020.90,"a":10.6,"e":9.5,"b":8.4,"c":13.6,"f":12.6,"d":11.4},
      {"t":2020.95,"a":9.6,"e":8.5,"b":7.6,"c":12.8,"f":11.6,"d":10.6},
      {"t":2021.00,"a":9.2,"e":8.2,"b":7.4,"c":12.6,"f":11.6,"d":10.4},
      {"t":2021.05,"a":9.8,"e":8.9,"b":7.9,"c":13.0,"f":11.8,"d":10.8},
      {"t":2021.10,"a":10.8,"e":9.7,"b":8.7,"c":13.6,"f":12.6,"d":11.4},
      {"t":2021.15,"a":11.8,"e":10.8,"b":9.6,"c":14.4,"f":13.2,"d":12.2},
      {"t":2021.20,"a":12.6,"e":11.3,"b":10.2,"c":15.0,"f":13.9,"d":12.8},
      {"t":2021.25,"a":13.0,"e":11.9,"b":10.6,"c":15.2,"f":14.0,"d":13.0},
      {"t":2021.30,"a":12.8,"e":11.4,"b":10.2,"c":14.8,"f":13.8,"d":12.6},
      {"t":2021.35,"a":12.0,"e":10.9,"b":9.6,"c":14.2,"f":13.0,"d":12.0},
      {"t":2021.40,"a":11.4,"e":10.2,"b":9.2,"c":13.6,"f":12.6,"d":11.4},
      {"t":2021.45,"a":11.0,"e":10.1,"b":9.0,"c":13.2,"f":12.0,"d":11.0},
      {"t":2021.50,"a":11.4,"e":10.3,"b":9.4,"c":13.4,"f":12.4,"d":11.2},
      {"t":2021.55,"a":12.4,"e":11.3,"b":10.0,"c":14.4,"f":13.0,"d":11.8},
      {"t":2021.60,"a":13.6,"e":12.1,"b":10.8,"c":15.6,"f":13.9,"d":12.4},
      {"t":2021.65,"a":15.0,"e":13.4,"b":11.6,"c":16.8,"f":14.8,"d":13.0},
      {"t":2021.70,"a":16.8,"e":14.4,"b":12.4,"c":18.4,"f":15.8,"d":13.6},
      {"t":2021.75,"a":18.9,"e":15.8,"b":13.2,"c":21.0,"f":17.3,"d":14.4},
      {"t":2021.80,"a":18.0,"e":15.2,"b":12.8,"c":23.3,"f":17.8,"d":14.6},
      {"t":2021.85,"a":17.0,"e":14.6,"b":12.4,"c":19.6,"f":16.6,"d":14.0},
      {"t":2021.90,"a":18.4,"e":15.6,"b":13.0,"c":20.5,"f":17.3,"d":14.6},
      {"t":2021.95,"a":21.0,"e":17.3,"b":14.0,"c":22.0,"f":18.6,"d":15.4},
      {"t":2022.00,"a":23.0,"e":18.8,"b":15.0,"c":23.6,"f":19.6,"d":16.0},
      {"t":2022.05,"a":25.8,"e":20.8,"b":16.4,"c":23.0,"f":19.2,"d":15.4},
      {"t":2022.10,"a":24.0,"e":19.3,"b":15.0,"c":21.5,"f":17.8,"d":14.2},
      {"t":2022.15,"a":22.0,"e":17.6,"b":13.5,"c":20.2,"f":16.8,"d":13.4},
      {"t":2022.20,"a":20.5,"e":16.6,"b":13.0,"c":19.2,"f":16.1,"d":13.0},
      {"t":2022.25,"a":21.5,"e":17.8,"b":14.0,"c":20.0,"f":16.6,"d":13.5},
      {"t":2022.30,"a":20.0,"e":16.8,"b":13.5,"c":19.0,"f":15.8,"d":12.8},
      {"t":2022.35,"a":19.0,"e":16.3,"b":14.0,"c":18.2,"f":15.7,"d":13.4},
      {"t":2022.40,"a":20.5,"e":17.6,"b":15.0,"c":19.6,"f":16.9,"d":14.6},
      {"t":2022.45,"a":22.0,"e":18.8,"b":16.0,"c":21.0,"f":18.2,"d":15.6},
      {"t":2022.50,"a":24.0,"e":20.3,"b":17.0,"c":22.5,"f":19.3,"d":16.4},
      {"t":2022.55,"a":26.5,"e":21.8,"b":18.0,"c":23.5,"f":20.1,"d":17.0},
      {"t":2022.60,"a":30.0,"e":24.2,"b":19.0,"c":26.6,"f":21.8,"d":17.6},
      {"t":2022.65,"a":28.5,"e":23.3,"b":18.4,"c":25.4,"f":21.2,"d":17.2},
      {"t":2022.70,"a":27.0,"e":22.1,"b":17.8,"c":24.4,"f":20.3,"d":16.6},
      {"t":2022.75,"a":28.0,"e":23.1,"b":18.5,"c":25.0,"f":20.8,"d":17.0},
      {"t":2022.80,"a":26.0,"e":21.3,"b":17.0,"c":23.5,"f":19.7,"d":16.2},
      {"t":2022.85,"a":24.5,"e":20.4,"b":16.7,"c":22.0,"f":18.8,"d":16.0}
    ]
  },
  "layer": [
    {
      "transform": [{"fold": ["a", "e", "b"], "as": ["sample", "v"]}],
      "mark": {"type": "point", "filled": true, "size": 28, "opacity": 1},
      "encoding": {
        "x": {
          "field": "t", "type": "quantitative",
          "scale": {"domain": [2002, 2023], "nice": false, "zero": false},
          "axis": {
            "values": [2002, 2006, 2010, 2014, 2018, 2022],
            "format": "d",
            "labelPadding": 18,
            "title": "Time (year)",
            "titleX": 247.5,
            "titleY": 52,
            "titleBaseline": "alphabetic",
            "titleAnchor": "middle"
          }
        },
        "y": {
          "field": "v", "type": "quantitative",
          "scale": {"domain": [0, 60], "nice": false},
          "axis": {
            "values": [0, 10, 20, 30, 40, 50, 60],
            "labelPadding": 13,
            "title": "Daily Mean RMS Signal (TECU)",
            "titleAngle": -90,
            "titleX": -44,
            "titleY": 190.5,
            "titleBaseline": "alphabetic",
            "titleAlign": "center"
          }
        },
        "color": {
          "datum": "IGS GIM",
          "type": "nominal",
          "scale": {"domain": ["IGS GIM", "Klobuchar"], "range": ["#0000f5", "#f01414"]},
          "legend": {
            "title": null,
            "orient": "none",
            "legendX": 329,
            "legendY": 12,
            "direction": "vertical",
            "fillColor": "white",
            "strokeColor": "#262626",
            "cornerRadius": 0,
            "padding": 5,
            "symbolType": "circle",
            "symbolSize": 18,
            "symbolOffset": 14,
            "labelOffset": 16,
            "labelFont": "DejaVu Sans",
            "labelFontSize": 19,
            "labelColor": "#262626",
            "rowPadding": 1
          }
        }
      }
    },
    {
      "transform": [{"fold": ["c", "f", "d"], "as": ["sample", "v"]}],
      "mark": {"type": "point", "filled": true, "size": 28, "opacity": 1},
      "encoding": {
        "x": {
          "field": "t", "type": "quantitative",
          "axis": {
            "orient": "top",
            "values": [2002, 2006, 2010, 2014, 2018, 2022],
            "labels": false, "grid": false, "title": null
          }
        },
        "y": {
          "field": "v", "type": "quantitative",
          "axis": {
            "orient": "right",
            "values": [0, 10, 20, 30, 40, 50, 60],
            "labels": false, "grid": false, "title": null
          }
        },
        "color": {"datum": "Klobuchar", "type": "nominal"}
      }
    }
  ],
  "resolve": {"axis": {"x": "independent", "y": "independent"}}
}
